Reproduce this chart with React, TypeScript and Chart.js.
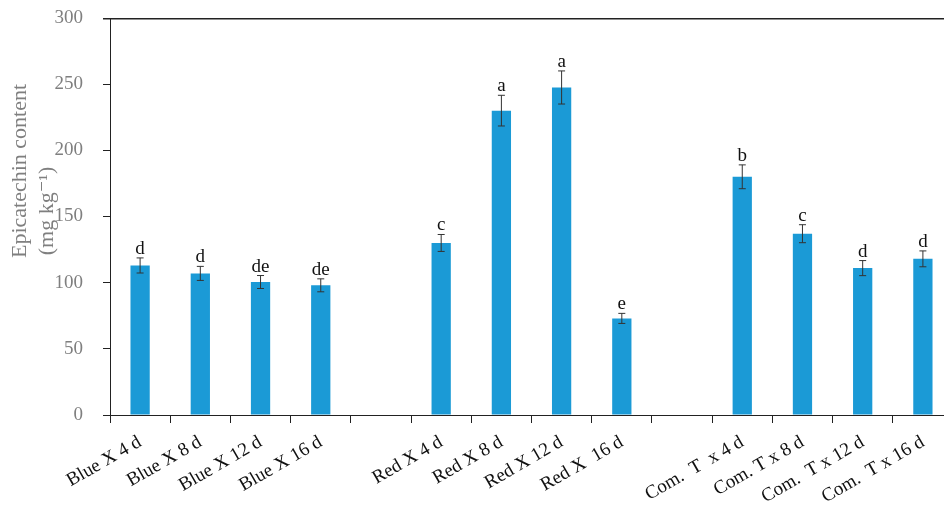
import React, { useEffect, useRef } from "react";
import { Chart, registerables } from "chart.js";

Chart.register(...registerables);

const categories = [
  "Blue X 4 d",
  "Blue X 8 d",
  "Blue X 12 d",
  "Blue X 16 d",
  "",
  "Red X 4 d",
  "Red X 8 d",
  "Red X 12 d",
  "Red X  16 d",
  "",
  "Com.  T  x 4 d",
  "Com. T x 8 d",
  "Com.  T x 12 d",
  "Com.  T x 16 d",
];
const values: (number | null)[] = [113, 107, 100.5, 98, null, 130, 230, 247.5, 73, null, 180, 137, 111, 118];
const errors: (number | null)[] = [5.7, 5.3, 4.9, 4.9, null, 6.4, 11.6, 12.5, 3.8, null, 9, 6.8, 5.7, 6];
const letters = ["d", "d", "de", "de", "", "c", "a", "a", "e", "", "b", "c", "d", "d"];
const yTicks = [0, 50, 100, 150, 200, 250, 300];
const yTitle1 = "Epicatechin content";
const yTitle2 = "(mg kg⁻¹)";

const FONT = '"Liberation Serif", "DejaVu Serif", serif';

const overlayPlugin = {
  id: "overlay",
  afterDraw(chart: any) {
    const ctx = chart.ctx;
    const meta = chart.getDatasetMeta(0);
    const y = chart.scales.y;
    const area = chart.chartArea;
    ctx.save();
    // top frame line at the axis maximum
    const yTop = Math.round(y.getPixelForValue(yTicks[yTicks.length - 1])) + 0.5;
    ctx.fillStyle = "#222";
    ctx.fillRect(area.left - 7, yTop - 0.5, area.right - area.left + 7, 1.5);
    for (let i = 0; i < values.length; i++) {
      const v = values[i];
      const e = errors[i];
      if (v == null || e == null) continue;
      const x = meta.data[i].x;
      const yt = y.getPixelForValue(v + e);
      const yb = y.getPixelForValue(v - e);
      ctx.strokeStyle = "#333";
      ctx.lineWidth = 1;
      ctx.beginPath();
      ctx.moveTo(x, yt);
      ctx.lineTo(x, yb);
      ctx.moveTo(x - 3.5, yt);
      ctx.lineTo(x + 3.5, yt);
      ctx.moveTo(x - 3.5, yb);
      ctx.lineTo(x + 3.5, yb);
      ctx.stroke();
      ctx.fillStyle = "#111";
      ctx.font = `19px ${FONT}`;
      ctx.textAlign = "center";
      ctx.textBaseline = "alphabetic";
      ctx.fillText(letters[i], x, yt - 4);
    }
    // y-axis title
    ctx.fillStyle = "#7f7f7f";
    ctx.font = `22px ${FONT}`;
    ctx.textAlign = "center";
    ctx.textBaseline = "middle";
    ctx.save();
    ctx.translate(20, 171);
    ctx.rotate(-Math.PI / 2);
    ctx.fillText(yTitle1, 0, 0);
    ctx.restore();
    ctx.save();
    ctx.translate(47, 211);
    ctx.rotate(-Math.PI / 2);
    ctx.fillText(yTitle2, 0, 0);
    ctx.restore();
    ctx.restore();
  },
};

export default function App() {
  const ref = useRef<HTMLCanvasElement | null>(null);
  useEffect(() => {
    if (!ref.current) return;
    const chart = new Chart(ref.current, {
      type: "bar",
      data: {
        labels: categories,
        datasets: [
          {
            data: values,
            backgroundColor: "#1b9ad6",
            borderWidth: 0,
            categoryPercentage: 1,
            barPercentage: 0.32,
          },
        ],
      },
      options: {
        animation: false,
        responsive: false,
        layout: { padding: { top: 18, left: 0, right: 0, bottom: 0 } },
        plugins: { legend: { display: false }, tooltip: { enabled: false } },
        scales: {
          x: {
            offset: true,
            grid: {
              offset: true,
              drawOnChartArea: false,
              drawTicks: true,
              tickLength: 8,
              color: "#222",
            },
            border: { display: true, color: "#222", width: 1 },
            ticks: {
              minRotation: 30,
              maxRotation: 30,
              autoSkip: false,
              color: "#111",
              padding: 8,
              font: { family: FONT, size: 19 },
            },
            afterFit: (s: any) => {
              s.height = 96;
              s.paddingLeft = 0;
              s.paddingRight = 0;
            },
          },
          y: {
            min: 0,
            max: 300,
            afterBuildTicks: (s: any) => {
              s.ticks = yTicks.map((v) => ({ value: v }));
            },
            grid: {
              drawTicks: true,
              drawOnChartArea: true,
              tickLength: 7,
              color: (c: any) => (c.tick && c.tick.value === 300 ? "#222" : "rgba(0,0,0,0)"),
              tickColor: "#222",
            },
            border: { display: true, color: "#222", width: 1 },
            ticks: {
              color: "#7f7f7f",
              padding: 20,
              font: { family: FONT, size: 19 },
            },
            afterFit: (s: any) => {
              s.width = 110;
              s.paddingTop = 0;
              s.paddingBottom = 0;
            },
          },
        },
      },
      plugins: [overlayPlugin],
    });
    return () => chart.destroy();
  }, []);
  return (
    <div style={{ position: "fixed", left: 0, top: 0, width: 944, height: 511, overflow: "hidden", background: "#fff" }}>
      <canvas ref={ref} width={953} height={511} style={{ display: "block" }} />
    </div>
  );
}
